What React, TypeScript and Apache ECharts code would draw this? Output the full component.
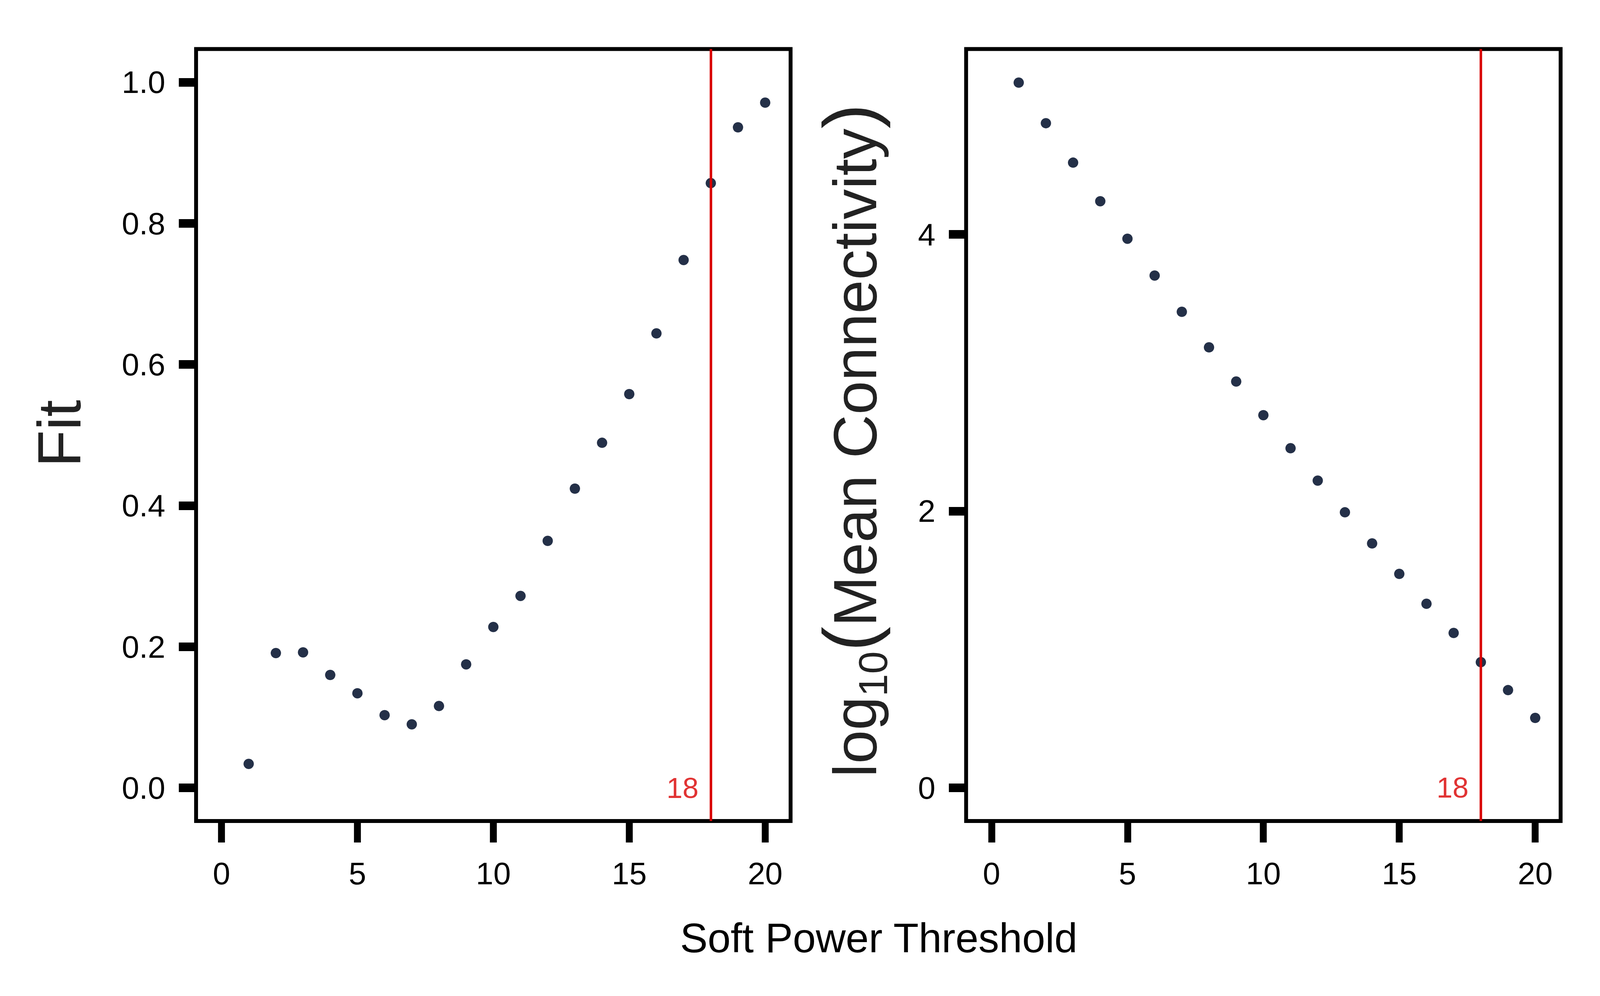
import * as echarts from 'echarts';
import { useEffect, useRef } from 'react';

const powers = [1, 2, 3, 4, 5, 6, 7, 8, 9, 10, 11, 12, 13, 14, 15, 16, 17, 18, 19, 20];
const fitValues = [
    0.034, 0.191, 0.192, 0.160, 0.134, 0.103, 0.090, 0.116, 0.175, 0.228,
    0.272, 0.350, 0.424, 0.489, 0.558, 0.644, 0.748, 0.857, 0.936, 0.971,
];
const connectivityValues = [
    5.096, 4.803, 4.518, 4.239, 3.968, 3.702, 3.440, 3.183, 2.936, 2.693,
    2.454, 2.220, 1.991, 1.766, 1.546, 1.330, 1.119, 0.908, 0.706, 0.505,
];
const threshold = 18;
const xTicks = [0, 5, 10, 15, 20];
const fitTicks = [0, 0.2, 0.4, 0.6, 0.8, 1.0];
const connectivityTicks = [0, 2, 4];

const FONT = 'Liberation Sans';
const DOT = '#243048';
const RED = '#d90000';

// layout designed on a 5100 x 2550 canvas, scaled to whatever the div really gets
const BASE_W = 5100;
const BASE_H = 2550;

const App = () => {
    const chartRef = useRef<HTMLDivElement>(null);

    useEffect(() => {
        if (!chartRef.current) return;
        const el = chartRef.current;
        const chart = echarts.init(el, null, { renderer: 'svg' });

        const draw = () => {
            const sx = el.clientWidth / BASE_W;
            const sy = el.clientHeight / BASE_H;
            const tickFont = 100 * sx;

            const grid = (left: number) => ({
                left: left * sx, top: 125.5 * sy, width: 1895 * sx, height: 1976.5 * sy,
                show: true, borderColor: '#000', borderWidth: 11 * (sx + sy) / 2, backgroundColor: 'transparent',
            });
            const xAxis = (gridIndex: number) => ({
                type: 'value', gridIndex, min: -0.935, max: 20.935,
                axisLine: { show: false, onZero: false },
                splitLine: { show: false },
                axisTick: { show: true, length: 55 * sy, customValues: xTicks, lineStyle: { color: '#000', width: 22 * sx } },
                axisLabel: {
                    customValues: xTicks, margin: 162 * sy - 0.8465 * tickFont,
                    fontSize: tickFont, fontFamily: FONT, color: '#000',
                },
            });
            const yAxis = (gridIndex: number, min: number, max: number, ticks: number[], digits: number) => ({
                type: 'value', gridIndex, min, max,
                axisLine: { show: false, onZero: false },
                splitLine: { show: false },
                axisTick: { show: true, length: 55 * sx, customValues: ticks, lineStyle: { color: '#000', width: 22 * sy } },
                axisLabel: {
                    customValues: ticks, margin: 98 * sx, fontSize: tickFont, fontFamily: FONT, color: '#000',
                    formatter: (v: number) => v.toFixed(digits),
                },
            });
            const dots = (idx: number, values: number[]) => ({
                type: 'scatter', xAxisIndex: idx, yAxisIndex: idx, z: 3,
                symbolSize: 33 * sx, itemStyle: { color: DOT, opacity: 1 },
                data: powers.map((p, i) => [p, values[i]]),
            });
            const cutoff = (idx: number) => ({
                type: 'scatter', xAxisIndex: idx, yAxisIndex: idx, z: 2, silent: true,
                symbolSize: 0,
                data: [[threshold, 0]],
                label: {
                    show: true, position: 'left', distance: 39 * sx, formatter: String(threshold),
                    color: RED, fontSize: 92 * sx, fontFamily: FONT,
                },
                markLine: {
                    silent: true, symbol: ['none', 'none'], label: { show: false },
                    lineStyle: { color: RED, width: 8 * sx, type: 'solid', opacity: 1 },
                    data: [{ xAxis: threshold }],
                },
            });

            const nameFont = 155 * sy;
            const central = 0.3465 * nameFont;
            const titleFont = 132 * sx;

            chart.setOption({
                animation: false,
                backgroundColor: '#fff',
                grid: [grid(625), grid(3079.5)],
                xAxis: [xAxis(0), xAxis(1)],
                yAxis: [
                    yAxis(0, -0.047, 1.047, fitTicks, 1),
                    yAxis(1, -0.24, 5.339, connectivityTicks, 0),
                ],
                series: [cutoff(0), cutoff(1), dots(0, fitValues), dots(1, connectivityValues)],
                graphic: [
                    {
                        type: 'text', x: 257 * sx - central, y: 1110 * sy, rotation: Math.PI / 2,
                        style: {
                            text: 'Fit', fontSize: nameFont, fontFamily: FONT, fill: '#222',
                            align: 'center', verticalAlign: 'middle',
                        },
                    },
                    {
                        type: 'text', x: 2793 * sx - central, y: 1128 * sy, rotation: Math.PI / 2,
                        style: {
                            text: '{m|log}{s|10}{p|(}{m|Mean Connectivity}{p|)}',
                            fill: '#222', align: 'center', verticalAlign: 'middle',
                            rich: {
                                m: { fontSize: nameFont, fontFamily: FONT, fill: '#222', verticalAlign: 'middle' },
                                s: {
                                    fontSize: 104 * sy, fontFamily: FONT, fill: '#222', verticalAlign: 'middle',
                                    padding: [92 * sy, 0, 0, 0],
                                },
                                p: {
                                    fontSize: 190 * sy, fontFamily: FONT, fill: '#222', verticalAlign: 'middle',
                                    padding: [0, 0, 30 * sy, 0],
                                },
                            },
                        },
                    },
                    {
                        type: 'text', x: 2801 * sx, y: 2438 * sy - 0.3465 * titleFont,
                        style: {
                            text: 'Soft Power Threshold', fontSize: titleFont, fontFamily: FONT, fill: '#000',
                            align: 'center', verticalAlign: 'middle',
                        },
                    },
                ],
            }, true);
        };

        draw();
        const onResize = () => {
            chart.resize();
            draw();
        };
        window.addEventListener('resize', onResize);
        return () => {
            window.removeEventListener('resize', onResize);
            chart.dispose();
        };
    }, []);

    return <div ref={chartRef} style={{ position: 'absolute', left: 0, top: 0, width: '100vw', height: '100vh' }} />;
};

export default App;
